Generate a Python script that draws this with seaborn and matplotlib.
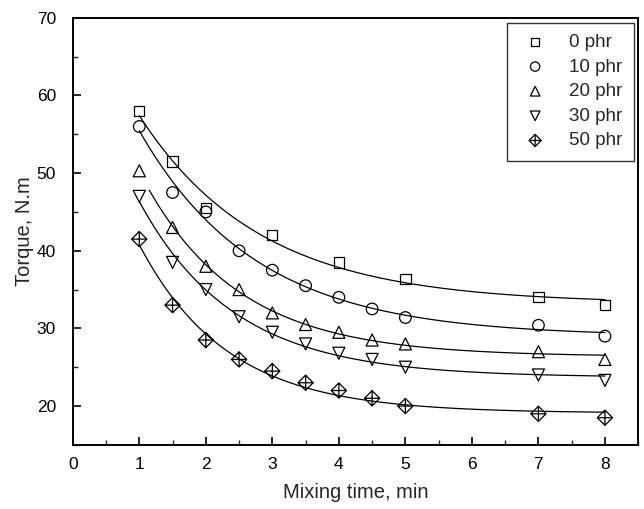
import numpy as np
import pandas as pd
import matplotlib
matplotlib.use("Agg")
import matplotlib.pyplot as plt
from matplotlib.path import Path
from matplotlib.ticker import MultipleLocator
import seaborn as sns

# ---- data ----
series = ["0 phr", "10 phr", "20 phr", "30 phr", "50 phr"]
x_0 = [1, 1.5, 2, 3, 4, 5, 7, 8]
y_0 = [58.0, 51.5, 45.5, 42.0, 38.5, 36.4, 34.0, 33.0]
x_10 = [1, 1.5, 2, 2.5, 3, 3.5, 4, 4.5, 5, 7, 8]
y_10 = [56.0, 47.5, 45.0, 40.0, 37.5, 35.5, 34.0, 32.5, 31.4, 30.4, 29.0]
x_20 = [1, 1.5, 2, 2.5, 3, 3.5, 4, 4.5, 5, 7, 8]
y_20 = [50.3, 43.0, 38.0, 35.0, 32.0, 30.5, 29.5, 28.5, 28.0, 27.0, 26.0]
x_30 = [1, 1.5, 2, 2.5, 3, 3.5, 4, 4.5, 5, 7, 8]
y_30 = [47.0, 38.5, 35.0, 31.5, 29.5, 28.0, 26.8, 26.0, 25.0, 24.0, 23.3]
x_50 = [1, 1.5, 2, 2.5, 3, 3.5, 4, 4.5, 5, 7, 8]
y_50 = [41.5, 33.0, 28.5, 26.0, 24.5, 23.0, 22.0, 21.0, 20.0, 19.0, 18.5]
fit_start = [1.0, 1.0, 1.15, 1.0, 1.0]
fit_end = 8.0

xs = [x_0, x_10, x_20, x_30, x_50]
ys = [y_0, y_10, y_20, y_30, y_50]

rows = []
for name, xv, yv in zip(series, xs, ys):
    for a, b in zip(xv, yv):
        rows.append((name, a, b))
df = pd.DataFrame(rows, columns=["series", "time", "torque"])

# exponential-decay fit y = c + a*exp(-x/t) (grid search on t, linear LSQ on c,a)
def fit_exp(xv, yv):
    xv = np.asarray(xv, float); yv = np.asarray(yv, float)
    best = None
    for t in np.linspace(0.2, 6, 600):
        M = np.column_stack([np.ones_like(xv), np.exp(-xv / t)])
        coef, res, *_ = np.linalg.lstsq(M, yv, rcond=None)
        r = np.sum((M @ coef - yv) ** 2)
        if best is None or r < best[0]:
            best = (r, coef, t)
    return best[1], best[2]

fit_rows = []
for name, xv, yv, s in zip(series, xs, ys, fit_start):
    (c, a), t = fit_exp(xv, yv)
    xx = np.linspace(s, fit_end, 200)
    for q in xx:
        fit_rows.append((name, q, c + a * np.exp(-q / t)))
fit_df = pd.DataFrame(fit_rows, columns=["series", "time", "torque"])

# ---- style ----
sns.set_theme(style="ticks")
plt.rcParams["font.family"] = ["Liberation Sans", "DejaVu Sans"]

# diamond with plus marker
verts = [(0, 1), (1, 0), (0, -1), (-1, 0), (0, 1),
         (0, 1), (0, -1), (-1, 0), (1, 0)]
codes = [Path.MOVETO, Path.LINETO, Path.LINETO, Path.LINETO, Path.CLOSEPOLY,
         Path.MOVETO, Path.LINETO, Path.MOVETO, Path.LINETO]
diamond_plus = Path(verts, codes)
markers = {"0 phr": "s", "10 phr": "o", "20 phr": "^", "30 phr": "v",
           "50 phr": diamond_plus}
sizes = {"0 phr": 55, "10 phr": 70, "20 phr": 75, "30 phr": 75, "50 phr": 120}

fig = plt.figure(figsize=(6.44, 5.09), dpi=100)
ax = fig.add_axes([0.113, 0.126, 0.878, 0.839])

sns.lineplot(data=fit_df, x="time", y="torque", units="series", estimator=None,
             color="black", linewidth=0.9, ax=ax, legend=False, sort=False)

for name in series:
    sub = df[df["series"] == name]
    ax.scatter(sub["time"], sub["torque"], marker=markers[name],
               s=sizes[name], facecolors="none",
               edgecolors="black", linewidths=0.9, label=name, zorder=3)

ax.set_xlim(0, 8.5)
ax.set_ylim(15, 70)
ax.xaxis.set_minor_locator(MultipleLocator(0.5))
ax.yaxis.set_minor_locator(MultipleLocator(5))
ax.set_xticks([0, 1, 2, 3, 4, 5, 6, 7, 8])
ax.set_yticks([20, 30, 40, 50, 60, 70])
ax.tick_params(which="major", direction="in", length=6, width=1.2,
               labelsize=12.5, colors="black")
ax.tick_params(axis="y", which="major", pad=12)
ax.tick_params(axis="x", which="major", pad=9)
ax.tick_params(which="minor", direction="in", length=3.5, width=1.0)
for sp in ax.spines.values():
    sp.set_linewidth(1.4)
    sp.set_color("black")

ax.set_xlabel("Mixing time, min", fontsize=14.5, labelpad=8)
ax.set_ylabel("Torque, N.m", fontsize=14.5, labelpad=2)

leg = ax.legend(loc="upper right", fontsize=13.5, frameon=True, fancybox=False,
                edgecolor="black", handletextpad=0.9, borderpad=0.6,
                labelspacing=0.4, handlelength=1.8, borderaxespad=0.25,
                markerscale=0.8)
leg.get_frame().set_linewidth(1.0)

fig.savefig("out.png", dpi=100)
